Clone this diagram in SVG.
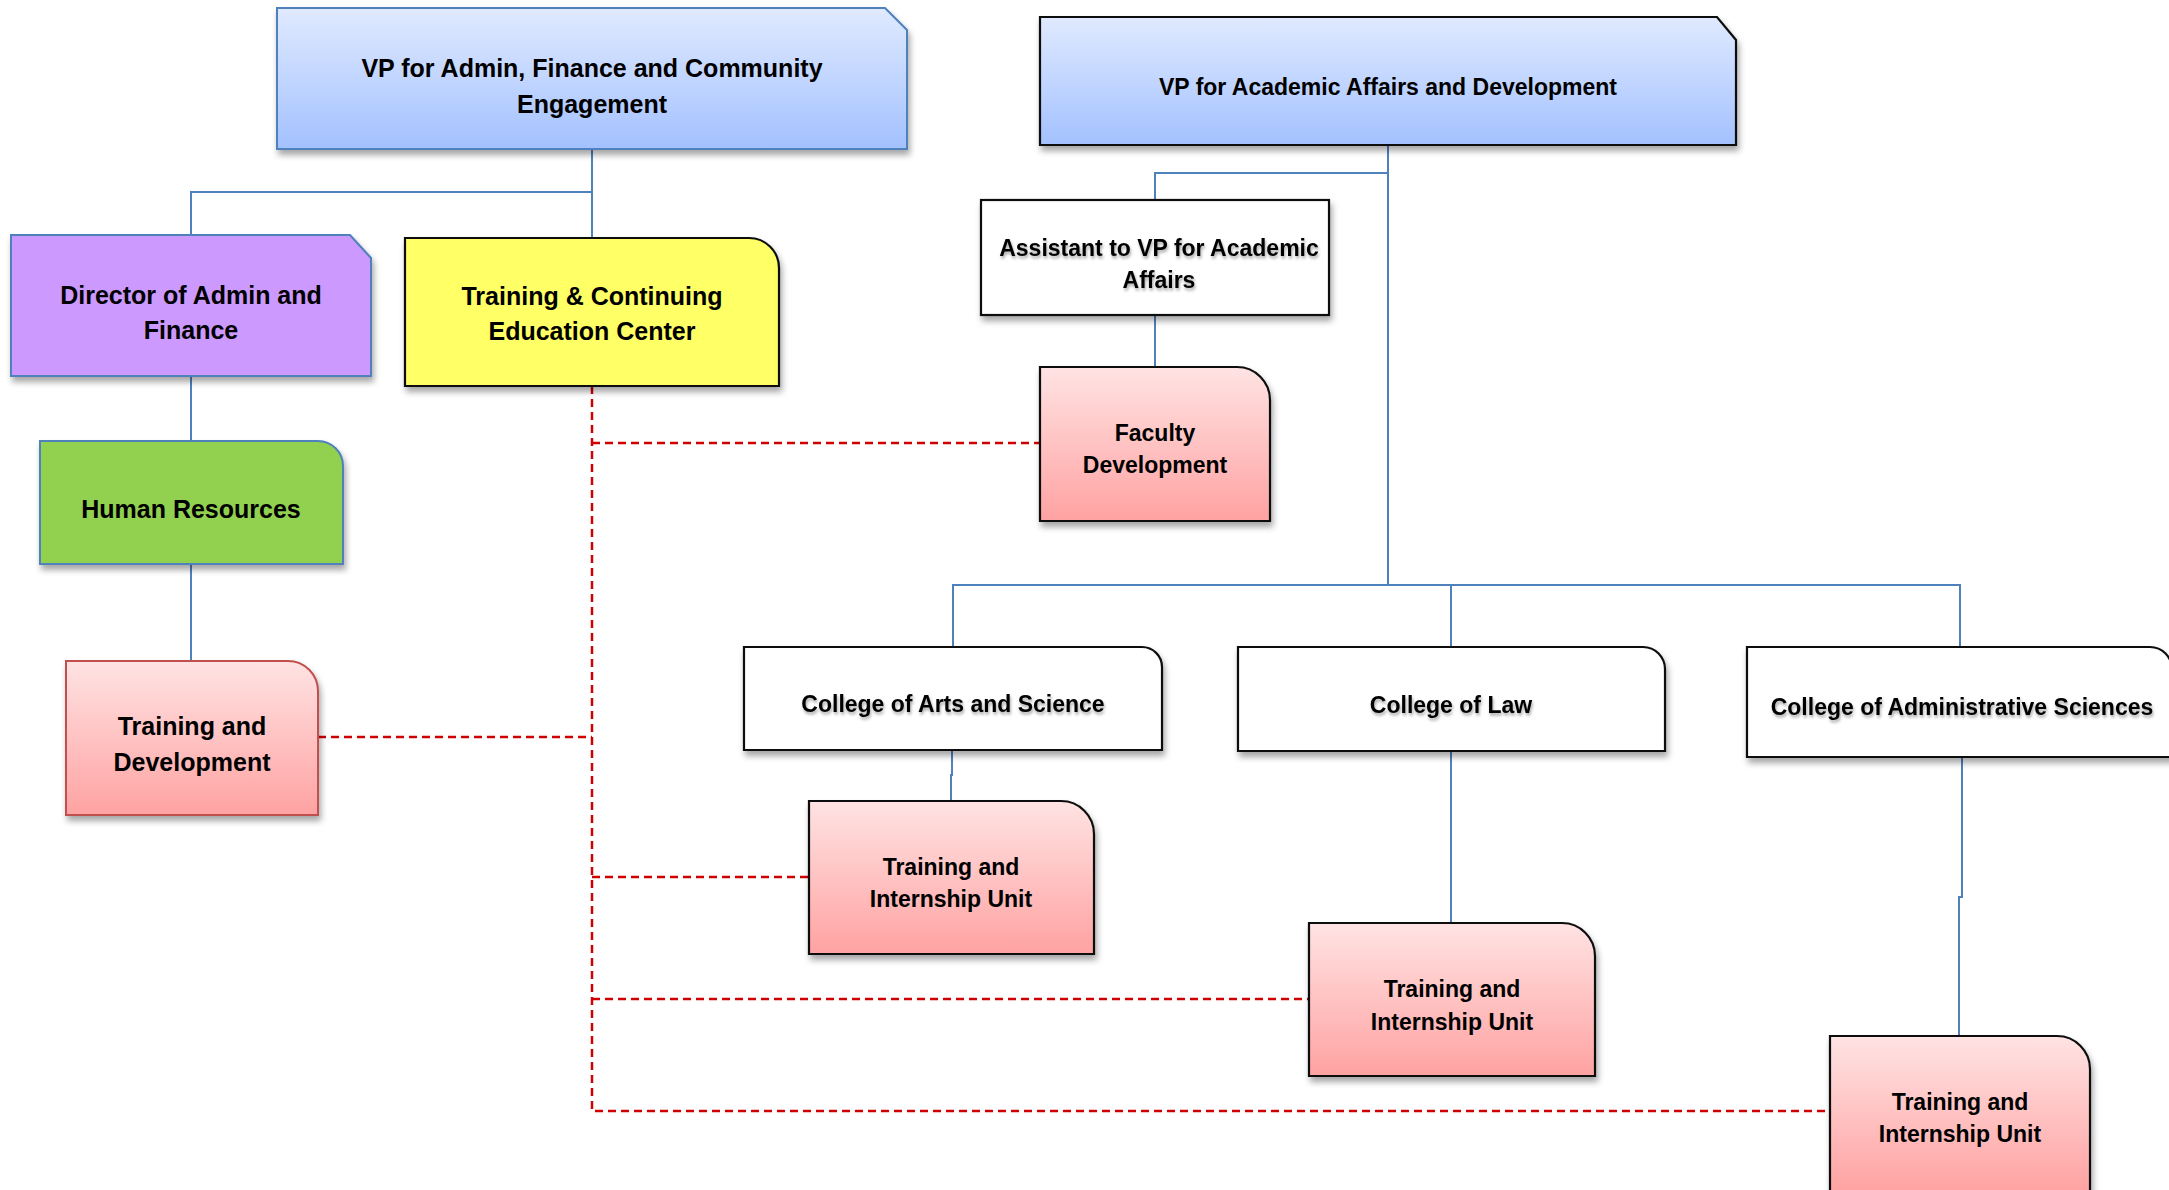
<svg xmlns="http://www.w3.org/2000/svg" width="2169" height="1190" viewBox="0 0 2169 1190">
<defs>
<linearGradient id="gBlue" x1="0" y1="0" x2="0" y2="1">
<stop offset="0" stop-color="#E0EAFF"/><stop offset="1" stop-color="#A3C1FF"/>
</linearGradient>
<linearGradient id="gPink" x1="0" y1="0" x2="0" y2="1">
<stop offset="0" stop-color="#FFE3E3"/><stop offset="1" stop-color="#FFA2A2"/>
</linearGradient>
<filter id="sh" x="-10%" y="-10%" width="125%" height="130%">
<feDropShadow dx="2" dy="5" stdDeviation="3" flood-color="#000" flood-opacity="0.35"/>
</filter>
<filter id="tsh" x="-10%" y="-30%" width="120%" height="180%">
<feDropShadow dx="1" dy="2.5" stdDeviation="1.5" flood-color="#000" flood-opacity="0.35"/>
</filter>
</defs>
<style>
.t{font-family:"Liberation Sans",Arial,sans-serif;font-weight:bold;fill:#000;text-anchor:middle}
.L{font-size:25px}
.S{font-size:23px}
.blue{stroke:#4F81BD;stroke-width:2}
.dark{stroke:#111;stroke-width:2.2}
.red{stroke:#C0504D;stroke-width:2}
.conn{fill:none;stroke:#4F81BD;stroke-width:2}
.dash{fill:none;stroke:#D00000;stroke-width:2.5;stroke-dasharray:8 5}
.ts{filter:url(#tsh)}
</style>
<rect width="2169" height="1190" fill="#fff"/>
<g id="connectors">
<path class="conn" d="M592,149 V238"/>
<path class="conn" d="M592,192 H191 V235"/>
<path class="conn" d="M191,376 V441"/>
<path class="conn" d="M191,564 V661"/>
<path class="conn" d="M1388,145 V585"/>
<path class="conn" d="M1388,173 H1155 V200"/>
<path class="conn" d="M1155,315 V367"/>
<path class="conn" d="M953,647 V585 H1960 V647"/>
<path class="conn" d="M1451,585 V647"/>
<path class="conn" d="M952,750 V775 H951 V801"/>
<path class="conn" d="M1451,751 V923"/>
<path class="conn" d="M1962,757 V897 H1959 V1036"/>
<path class="dash" d="M592,386 V1111 H1830"/>
<path class="dash" d="M592,443 H1040"/>
<path class="dash" d="M318,737 H592"/>
<path class="dash" d="M592,877 H809"/>
<path class="dash" d="M592,999 H1309"/>
</g>
<g id="vp-admin">
<path d="M277,8 H885 L907,30 V149 H277 Z" fill="url(#gBlue)" class="blue" filter="url(#sh)"/>
<text class="t L" x="592" y="77">VP for Admin, Finance and Community</text>
<text class="t L" x="592" y="113">Engagement</text>
</g>
<g id="vp-academic">
<path d="M1040,17 H1717 L1736,40 V145 H1040 Z" fill="url(#gBlue)" class="dark" filter="url(#sh)"/>
<text class="t S" x="1388" y="95">VP for Academic Affairs and Development</text>
</g>
<g id="director">
<path d="M11,235 H350 L371,258 V376 H11 Z" fill="#CC99FF" class="blue" filter="url(#sh)"/>
<text class="t L" x="191" y="304">Director of Admin and</text>
<text class="t L" x="191" y="339">Finance</text>
</g>
<g id="training-center">
<path d="M405,238 H749 A30,30 0 0 1 779,268 V386 H405 Z" fill="#FFFF66" class="dark" filter="url(#sh)"/>
<text class="t L" x="592" y="305">Training &amp; Continuing</text>
<text class="t L" x="592" y="340">Education Center</text>
</g>
<g id="human-resources">
<path d="M40,441 H318 A25,25 0 0 1 343,466 V564 H40 Z" fill="#92D050" class="blue" filter="url(#sh)"/>
<text class="t L" x="191" y="518">Human Resources</text>
</g>
<g id="training-development">
<path d="M66,661 H288 A30,30 0 0 1 318,691 V815 H66 Z" fill="url(#gPink)" class="red" filter="url(#sh)"/>
<text class="t L" x="192" y="735">Training and</text>
<text class="t L" x="192" y="771">Development</text>
</g>
<g id="assistant">
<rect x="981" y="200" width="348" height="115" fill="#fff" class="dark" filter="url(#sh)"/>
<text class="t S ts" x="1159" y="256">Assistant to VP for Academic</text>
<text class="t S ts" x="1159" y="288">Affairs</text>
</g>
<g id="faculty-development">
<path d="M1040,367 H1237 A33,33 0 0 1 1270,400 V521 H1040 Z" fill="url(#gPink)" class="dark" filter="url(#sh)"/>
<text class="t S" x="1155" y="441">Faculty</text>
<text class="t S" x="1155" y="473">Development</text>
</g>
<g id="college-arts">
<path d="M744,647 H1142 A20,20 0 0 1 1162,667 V750 H744 Z" fill="#fff" class="dark" filter="url(#sh)"/>
<text class="t S ts" x="953" y="712">College of Arts and Science</text>
</g>
<g id="college-law">
<path d="M1238,647 H1643 A22,22 0 0 1 1665,669 V751 H1238 Z" fill="#fff" class="dark" filter="url(#sh)"/>
<text class="t S ts" x="1451" y="713">College of Law</text>
</g>
<g id="college-admin">
<path d="M1747,647 H2150 A22,22 0 0 1 2172,669 V757 H1747 Z" fill="#fff" class="dark" filter="url(#sh)"/>
<text class="t S ts" x="1962" y="715">College of Administrative Sciences</text>
</g>
<g id="tiu-arts">
<path d="M809,801 H1061 A33,33 0 0 1 1094,834 V954 H809 Z" fill="url(#gPink)" class="dark" filter="url(#sh)"/>
<text class="t S" x="951" y="875">Training and</text>
<text class="t S" x="951" y="907">Internship Unit</text>
</g>
<g id="tiu-law">
<path d="M1309,923 H1562 A33,33 0 0 1 1595,956 V1076 H1309 Z" fill="url(#gPink)" class="dark" filter="url(#sh)"/>
<text class="t S" x="1452" y="997">Training and</text>
<text class="t S" x="1452" y="1030">Internship Unit</text>
</g>
<g id="tiu-admin">
<path d="M1830,1036 H2057 A33,33 0 0 1 2090,1069 V1192 H1830 Z" fill="url(#gPink)" class="dark" filter="url(#sh)"/>
<text class="t S" x="1960" y="1110">Training and</text>
<text class="t S" x="1960" y="1142">Internship Unit</text>
</g>
</svg>
